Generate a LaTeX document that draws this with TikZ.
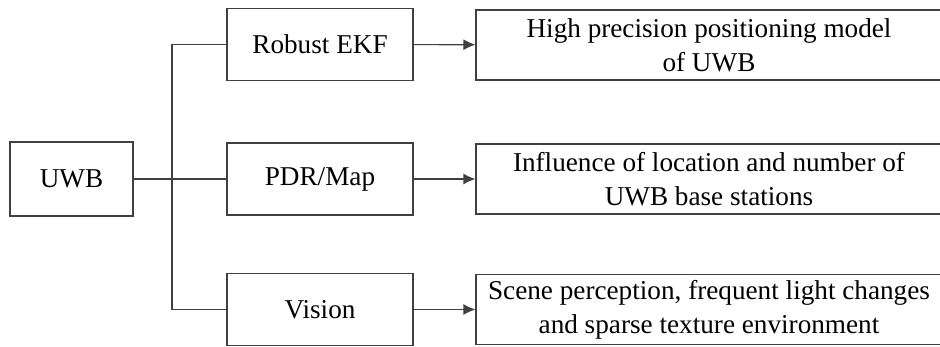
\documentclass[tikz,border=0pt]{standalone}
\usepackage{fontspec}
\setmainfont{Liberation Serif}
\usetikzlibrary{arrows.meta,positioning}

\begin{document}
\begin{tikzpicture}[x=0.5pt,y=-0.5pt]
\tikzstyle{box}=[rectangle,draw=black!75,line width=0.6pt,align=center,inner sep=0pt,font=\fontsize{13.6}{17}\selectfont]
\tikzstyle{mid}=[box,minimum width=93pt,minimum height=36pt]
\tikzstyle{res}=[box,minimum width=233pt,minimum height=35pt]
\tikzstyle{link}=[draw=black!75,line width=0.6pt]
\useasboundingbox (0,0) rectangle (940,347);
\node[box,minimum width=61.5pt,minimum height=37pt] (uwb) at (71.5,179) {UWB};
\node[mid] (ekf) at (320,44.5) {Robust EKF};
\node[mid] (pdr) at (320,179) {PDR/Map};
\node[mid] (vis) at (320,309.5) {Vision};
\node[res] (hp) at (709,45) {High precision positioning model\\of UWB};
\node[res] (inf) at (709,179) {Influence of location and number of\\UWB base stations};
\node[res] (sc) at (709,309.5) {Scene perception, frequent light changes\\and sparse texture environment};
\coordinate (fork) at (172,179);
\draw[link] (uwb.east) -- (pdr.west);
\draw[link] (ekf.west) -| (fork) |- (vis.west);
\draw[link,-{Latex[length=6pt,width=5.5pt]}] (ekf) -- (hp);
\draw[link,-{Latex[length=6pt,width=5.5pt]}] (pdr) -- (inf);
\draw[link,-{Latex[length=6pt,width=5.5pt]}] (vis) -- (sc);
\end{tikzpicture}
\end{document}
